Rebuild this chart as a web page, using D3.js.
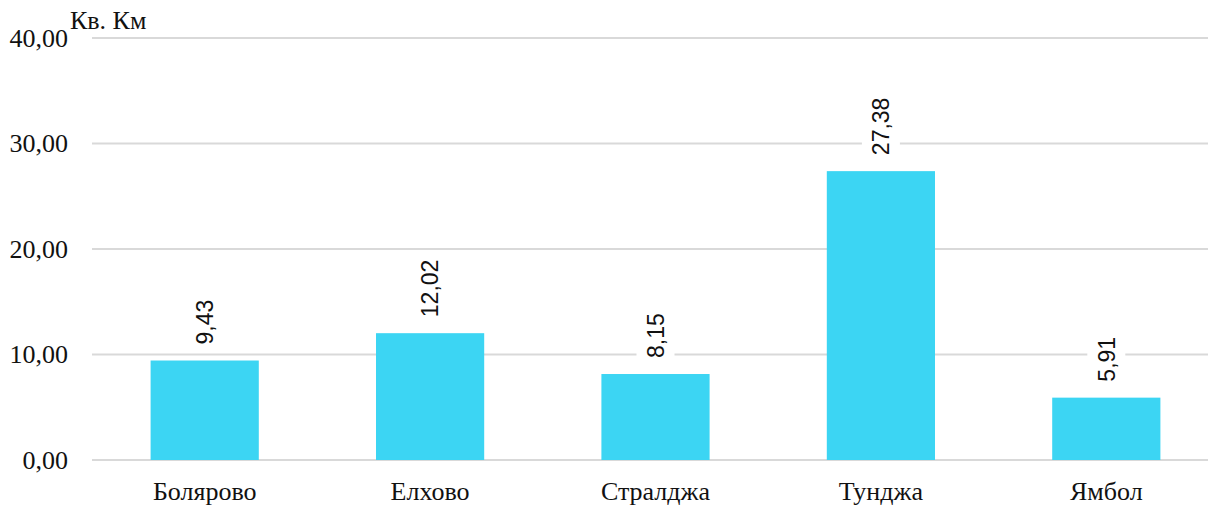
<!DOCTYPE html>
<html>
<head>
<meta charset="utf-8">
<script src="https://cdn.jsdelivr.net/npm/d3@7"></script>
<style>
html,body{margin:0;padding:0;background:#fff;}
svg{display:block;}
</style>
</head>
<body>
<svg id="chart" width="1208" height="506"></svg>
<script>
const categories = ["Болярово", "Елхово", "Стралджа", "Тунджа", "Ямбол"];
const values = [9.43, 12.02, 8.15, 27.38, 5.91];
const yTicks = [0, 10, 20, 30, 40];
const yTitle = "Кв. Км";

const svg = d3.select("#chart");
const x0 = 92, x1 = 1219, yTop = 38, yBot = 460;

const x = d3.scaleBand().domain(categories).range([x0, x1]).paddingInner(0.52).paddingOuter(0.26);
const y = d3.scaleLinear().domain([0, 40]).range([yBot, yTop]);
const fmt = v => d3.format(".2f")(v).replace(".", ",");
const serif = "'Liberation Serif', 'Times New Roman', serif";

// gridlines
svg.append("g").selectAll("line").data(yTicks).join("line")
  .attr("x1", x0).attr("x2", x1)
  .attr("y1", d => y(d)).attr("y2", d => y(d))
  .attr("stroke", "#d9d9d9").attr("stroke-width", 2);

// y tick labels
svg.append("g").selectAll("text").data(yTicks).join("text")
  .attr("x", 68).attr("y", d => y(d)).attr("dy", "0.34em")
  .attr("text-anchor", "end")
  .attr("font-family", serif)
  .attr("font-size", 26).attr("fill", "#111")
  .text(d => fmt(d));

// y title
svg.append("text").attr("x", 70).attr("y", 29)
  .attr("font-family", serif)
  .attr("font-size", 26).attr("fill", "#111").text(yTitle);

// bars
svg.append("g").selectAll("rect").data(values).join("rect")
  .attr("x", (d, i) => x(categories[i]))
  .attr("width", x.bandwidth())
  .attr("y", d => y(d))
  .attr("height", d => y(0) - y(d))
  .attr("fill", "#3cd5f3");

// category labels
svg.append("g").selectAll("text").data(categories).join("text")
  .attr("x", d => x(d) + x.bandwidth() / 2).attr("y", 500)
  .attr("text-anchor", "middle")
  .attr("font-family", serif)
  .attr("font-size", 26).attr("fill", "#111")
  .text(d => d);

// data labels
const lg = svg.append("g");
values.forEach((v, i) => {
  const cx = x(categories[i]) + x.bandwidth() / 2;
  const g = lg.append("g").attr("transform", `translate(${cx},${y(v) - 16}) rotate(-90)`);
  const bg = g.append("rect").attr("fill", "#fff");
  const t = g.append("text").attr("x", 0).attr("y", 0).attr("dy", "0.36em")
    .attr("font-family", "'Liberation Sans', Arial, sans-serif")
    .attr("font-size", 23).attr("fill", "#111")
    .text(fmt(v));
  const bb = t.node().getBBox();
  bg.attr("x", bb.x - 4).attr("width", bb.width + 8)
    .attr("y", -19).attr("height", 38);
});
</script>
</body>
</html>
